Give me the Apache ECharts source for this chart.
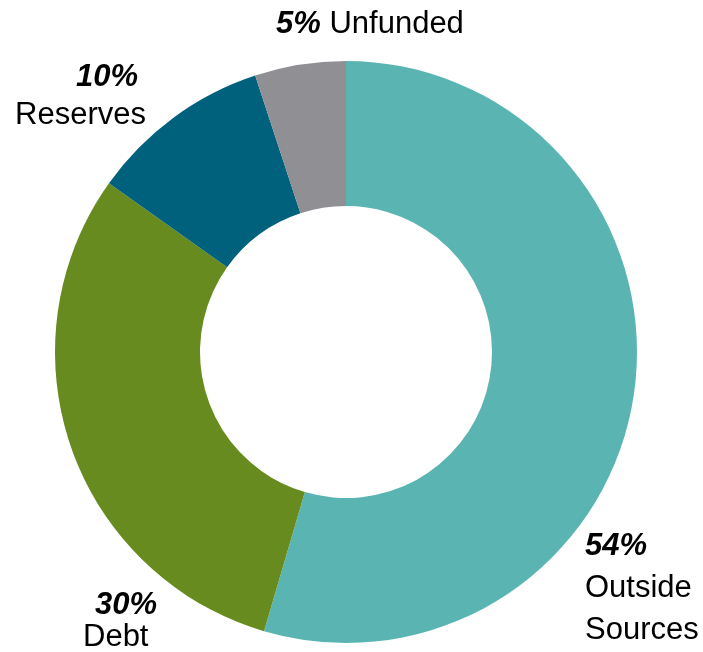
<!DOCTYPE html>
<html>
<head>
<meta charset="utf-8">
<script src="https://cdn.jsdelivr.net/npm/echarts@6/dist/echarts.min.js"></script>
<style>
  html, body { margin: 0; padding: 0; background: #fff; }
  #chart { width: 703px; height: 652px; }
</style>
</head>
<body>
<div id="chart"></div>
<script>
// funding mix donut, clockwise from 12 o'clock
const names = ["Outside Sources", "Debt", "Reserves", "Unfunded"];
const values = [54, 30, 10, 5];
const pctLabels = ["54%", "30%", "10%", "5%"];
const nameLabels = ["Outside\nSources", "Debt", "Reserves", "Unfunded"];
const colors = ["#5AB5B2", "#678B1E", "#00617D", "#8F8F94"];

// label placement (anchor of each text block)
const labelPos = [
  { x: 585, y: 525, align: "left" },
  { x: 83, y: 589, align: "left" },
  { x: 146, y: 58, align: "right" },
  { x: 276, y: 6, align: "left" },
];
const lineH = [42, 32, 38, 36];
const pctPad = [[0, 0, 0, 0], [0, 0, 0, 12], [0, 8, 0, 0], [0, 0, 0, 0]];
const sep = ["\n", "\n", "\n", " "];

const chart = echarts.init(document.getElementById("chart"), null, { renderer: "canvas" });

const font = '"Liberation Sans", Arial, sans-serif';
const fs = 31;

chart.setOption({
  animation: false,
  series: [
    {
      type: "pie",
      center: [346, 352],
      radius: [146, 291],
      startAngle: 90,
      clockwise: true,
      silent: true,
      avoidLabelOverlap: false,
      itemStyle: { borderWidth: 0 },
      labelLine: { show: false },
      label: {
        show: true,
        position: "inside",
        color: "#000",
        fontFamily: font,
        fontSize: fs,
        overflow: "none",
      },
      labelLayout: (p) => {
        const pos = labelPos[p.dataIndex];
        return { x: pos.x, y: pos.y, align: pos.align, verticalAlign: "top", hideOverlap: false };
      },
      data: names.map((n, i) => ({
        name: n,
        value: values[i],
        itemStyle: { color: colors[i] },
        label: {
          formatter: () => {
            const nm = nameLabels[i].split("\n").map((s) => `{n|${s}}`).join("\n");
            return `{p|${pctLabels[i]}}${sep[i]}${nm}`;
          },
          rich: {
            p: {
              fontFamily: font,
              fontSize: fs,
              fontWeight: "bold",
              fontStyle: "italic",
              color: "#000",
              lineHeight: lineH[i],
              padding: pctPad[i],
            },
            n: {
              fontFamily: font,
              fontSize: fs,
              color: "#000",
              lineHeight: lineH[i],
            },
          },
        },
      })),
    },
  ],
});
</script>
</body>
</html>
